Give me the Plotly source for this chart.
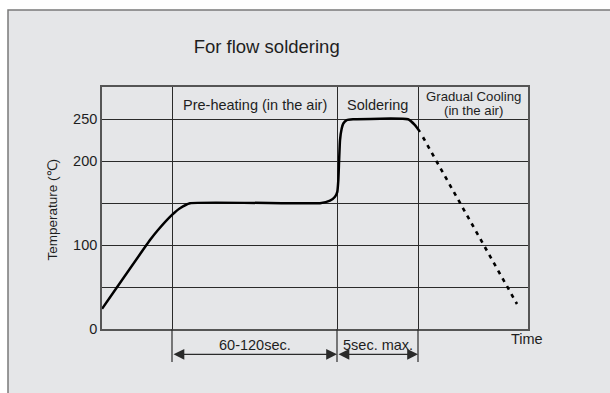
import plotly.graph_objects as go

# Reflow soldering temperature profile (time in arbitrary units, temperature in degC)
profile_time = [0, 48, 56, 70, 78, 88, 218, 228, 233, 235.3, 236.3, 238, 239.7, 241.3, 244.7, 251, 306, 313, 318]
profile_temp = [24, 106, 118, 136, 144, 150, 150, 153, 157.6, 163.5, 177, 225, 239, 245, 249, 250, 250, 243, 235]

cooling_time = [321, 415]
cooling_temp = [228.6, 29.8]

# Phase boundaries along the time axis and header labels
phase_edges = [0, 70, 235, 316, 426]
phase_names = ["", "Pre-heating (in the air)", "Soldering", "Gradual Cooling|(in the air)"]
span_labels = ["60-120sec.", "5sec. max."]

y_ticks = [0, 50, 100, 150, 200, 250]
y_tick_text = ["0", "", "100", "", "200", "250"]
y_max = 288.5

W, H = 610, 393
ML, MR, MT, MB = 102, 82, 87, 64
PW, PH = W - ML - MR, H - MT - MB

FONT = "Liberation Sans, Arial, Helvetica, sans-serif"
INK = "#1e1e1e"
GRID = "#2a2a2a"
PANEL = "#e5e6e8"


def px_to_paper_x(px):
    return (px - ML) / PW


def px_to_paper_y(py):
    return 1 - (py - MT) / PH


fig = go.Figure()

fig.add_trace(go.Scatter(
    x=profile_time, y=profile_temp, mode="lines",
    line=dict(color="black", width=2.5, shape="spline", smoothing=0.4),
    hoverinfo="skip", showlegend=False,
))
fig.add_trace(go.Scatter(
    x=cooling_time, y=cooling_temp, mode="lines",
    line=dict(color="black", width=2.6, dash="4px,5px"),
    hoverinfo="skip", showlegend=False,
))

shapes = [
    # grey panel framing the chart
    dict(type="rect", xref="paper", yref="paper", layer="below",
         x0=px_to_paper_x(8), x1=px_to_paper_x(640), y0=px_to_paper_y(430), y1=px_to_paper_y(10),
         fillcolor=PANEL, line=dict(color="#7a7a7a", width=1.5)),
]
# extension lines for the dimension arrows below the axis
for edge in phase_edges[1:4]:
    shapes.append(dict(type="line", xref="x", yref="paper", x0=edge, x1=edge,
                       y0=0, y1=px_to_paper_y(362), line=dict(color=GRID, width=1.2)))

annotations = []
# header row labels
header_y = {1: [267], 2: [267], 3: [277.5, 261]}
for i in range(1, 4):
    mid = (phase_edges[i] + phase_edges[i + 1]) / 2
    parts = phase_names[i].split("|")
    size = 14.5 if len(parts) == 1 else 13.2
    for part, yy in zip(parts, header_y[i]):
        annotations.append(dict(x=mid, y=yy, xref="x", yref="y", text=part, showarrow=False,
                                xanchor="center", yanchor="middle", borderpad=0,
                                font=dict(family=FONT, size=size, color=INK)))

# dimension arrows and their labels
arrow_y = px_to_paper_y(354.3)
label_y = px_to_paper_y(344.5)
for i, lab in enumerate(span_labels):
    a, b = phase_edges[i + 1], phase_edges[i + 2]
    annotations.append(dict(x=b, y=arrow_y, xref="x", yref="paper", ax=a, ay=0,
                            axref="x", ayref="pixel", text="", showarrow=True,
                            arrowhead=2, arrowside="end+start", arrowsize=1.8,
                            arrowwidth=1.2, arrowcolor=GRID, standoff=0, startstandoff=0))
    annotations.append(dict(x=(a + b) / 2, y=label_y, xref="x", yref="paper", text=lab,
                            showarrow=False, xanchor="center", yanchor="middle",
                            font=dict(family=FONT, size=14.5, color=INK)))

annotations.append(dict(x=px_to_paper_x(527), y=px_to_paper_y(339), xref="paper", yref="paper",
                        text="Time", showarrow=False, xanchor="center", yanchor="middle",
                        font=dict(family=FONT, size=14.5, color=INK)))
annotations.append(dict(x=px_to_paper_x(51.5), y=px_to_paper_y(210), xref="paper", yref="paper",
                        text="Temperature (℃)", textangle=-90, showarrow=False,
                        xanchor="center", yanchor="middle",
                        font=dict(family=FONT, size=13.5, color=INK)))

fig.update_layout(
    width=W, height=H,
    margin=dict(l=ML, r=MR, t=MT, b=MB),
    paper_bgcolor="white", plot_bgcolor="white",
    title=dict(text="For flow soldering", x=px_to_paper_x(266.7), xref="paper", xanchor="center",
               y=1 - 46.7 / H, yref="container", yanchor="middle",
               font=dict(family=FONT, size=18.5, color=INK)),
    xaxis=dict(range=[phase_edges[0], phase_edges[-1]], tickvals=phase_edges[1:4],
               showticklabels=False, ticks="", showgrid=True, gridcolor=GRID, gridwidth=1.2,
               zeroline=False, showline=True, mirror=True, linecolor="#555", linewidth=1.6,
               fixedrange=True),
    yaxis=dict(range=[0, y_max], tickvals=y_ticks, ticktext=y_tick_text, ticks="",
               showgrid=True, gridcolor=GRID, gridwidth=1.2, zeroline=False,
               showline=True, mirror=True, linecolor="#555", linewidth=1.6,
               tickfont=dict(family=FONT, size=14.5, color=INK), fixedrange=True),
    shapes=shapes,
    annotations=annotations,
    showlegend=False,
)

fig.write_html("out.html")
